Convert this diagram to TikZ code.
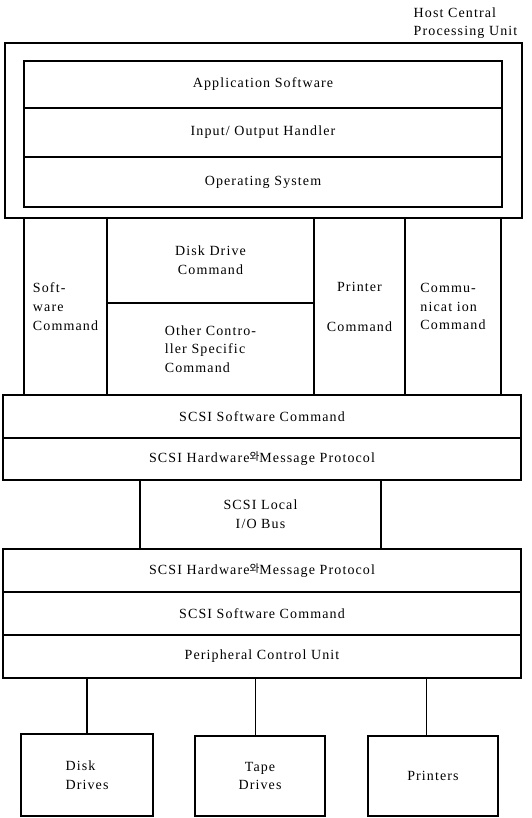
\documentclass[tikz,border=0pt]{standalone}
\usepackage{fontspec}
\setmainfont{Liberation Serif}[LetterSpace=8]
\newfontfamily\kr{Noto Sans CJK KR}
\newcommand{\wa}{{\kr\fontsize{8}{8}\selectfont\raisebox{1.5pt}{와}}}
% \boxat{options}{name}{x1}{y1}{x2}{y2}{text}
\newcommand{\boxat}[7]{%
  \node[#1, minimum width={(#5-#3)*0.75pt}, minimum height={(#6-#4)*0.75pt}]
    (#2) at ({(#3+#5)/2},{(#4+#6)/2}) {#7};}
\begin{document}
\begin{tikzpicture}[x=0.75pt,y=-0.75pt,
  txt/.style={font=\fontsize{10.5}{14}\selectfont},
  cell/.style={draw, line width=1.1pt, inner sep=0pt, txt, align=center},
  lcell/.style={cell, align=left},
  hostbox/.style={draw, line width=2.2pt, inner sep=0pt},
  devbox/.style={draw, line width=1.6pt, inner sep=0pt, txt},
  wire/.style={line width=1.1pt}]
\useasboundingbox (0,0) rectangle (532,818);
% Host CPU
\node[txt, anchor=west, align=left] (hostlbl) at (409,23) {Host Central\\Processing Unit};
\boxat{hostbox}{host}{5}{43}{522}{218}{}
\boxat{cell}{app}{24}{61}{502}{108}{Application Software}
\boxat{cell}{ioh}{24}{108}{502}{157}{Input/ Output Handler}
\boxat{cell}{os}{24}{157}{502}{207}{Operating System}
% command columns
\boxat{lcell}{swc}{24}{218}{107}{395}{Soft-\\ware\\Command}
\boxat{cell}{ddc}{107}{218}{314}{303}{Disk Drive\\Command}
\boxat{lcell}{occ}{107}{303}{314}{395}{Other Contro-\\ller Specific\\Command}
\boxat{cell}{prc}{314}{218}{405}{395}{Printer\\[16pt]Command}
\boxat{lcell}{cmc}{405}{218}{501}{395}{Commu-\\nicat ion\\Command}
% SCSI host side
\boxat{cell}{ssw1}{3}{395}{521}{438}{SCSI Software Command}
\boxat{cell}{shw1}{3}{438}{521}{480}{SCSI Hardware\wa Message Protocol}
\boxat{cell}{bus}{140}{480}{381}{549}{SCSI Local\\I/O Bus}
% SCSI peripheral side
\boxat{cell}{shw2}{3}{549}{521}{592}{SCSI Hardware\wa Message Protocol}
\boxat{cell}{ssw2}{3}{592}{521}{635}{SCSI Software Command}
\boxat{cell}{pcu}{3}{635}{521}{678}{Peripheral Control Unit}
% devices
\boxat{devbox,align=left}{disk}{21}{734}{153}{816}{Disk\\Drives}
\boxat{devbox,align=center}{tape}{195}{736}{325}{816}{Tape\\Drives}
\boxat{devbox}{prn}{368}{736}{498}{816}{Printers}
\draw[wire] (disk.north) -- (disk.north |- pcu.south);
\draw[wire] ([xshift=-3.5pt]tape.north) -- ([xshift=-3.5pt]tape.north |- pcu.south);
\draw[wire] ([xshift=-5pt]prn.north) -- ([xshift=-5pt]prn.north |- pcu.south);
\end{tikzpicture}
\end{document}
